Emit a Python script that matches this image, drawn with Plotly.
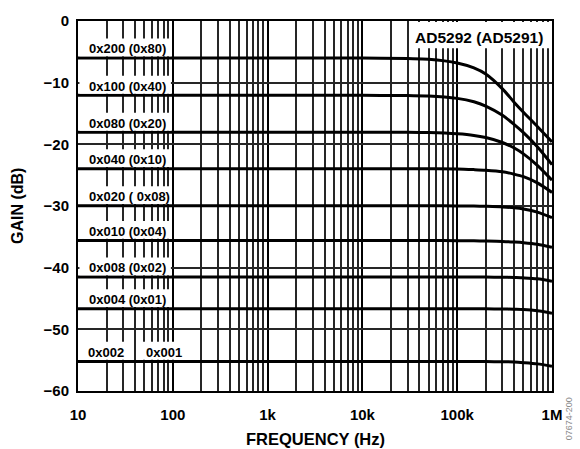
import plotly.graph_objects as go

# Frequenzpunkte (Hz) och avlästa förstärkningar (dB) per kod
freq = [10, 100, 1000, 10000, 30000, 50000, 100000, 150000, 200000,
        300000, 400000, 500000, 700000, 1000000]

g_200 = [-6.0, -6.0, -6.0, -6.0, -6.1, -6.2, -6.8, -7.6, -8.6, -11.0, -13.2, -14.8, -17.1, -19.6]
g_100 = [-12.05, -12.05, -12.05, -12.05, -12.1, -12.15, -12.55, -13.1, -13.8, -15.3, -16.8, -18.1, -20.4, -23.3]
g_080 = [-18.05, -18.05, -18.05, -18.05, -18.05, -18.1, -18.3, -18.55, -18.9, -19.7, -20.6, -21.55, -23.4, -25.8]
g_040 = [-23.95, -23.95, -23.95, -23.95, -23.95, -23.97, -24.0, -24.1, -24.2, -24.45, -24.85, -25.25, -26.25, -27.8]
g_020 = [-29.95, -29.95, -29.95, -29.95, -29.95, -29.96, -29.98, -30.0, -30.05, -30.15, -30.3, -30.5, -31.0, -31.9]
g_010 = [-35.6, -35.6, -35.6, -35.6, -35.6, -35.6, -35.62, -35.65, -35.68, -35.75, -35.85, -35.95, -36.2, -36.7]
g_008 = [-41.5, -41.5, -41.5, -41.5, -41.5, -41.5, -41.5, -41.52, -41.53, -41.55, -41.6, -41.65, -41.8, -42.2]
g_004 = [-46.65, -46.65, -46.65, -46.65, -46.65, -46.65, -46.65, -46.67, -46.68, -46.7, -46.75, -46.8, -47.0, -47.4]
g_002 = [-55.2, -55.2, -55.2, -55.2, -55.2, -55.2, -55.2, -55.22, -55.23, -55.25, -55.3, -55.4, -55.6, -56.0]

series = [g_200, g_100, g_080, g_040, g_020, g_010, g_008, g_004, g_002]
labels = ["0x200 (0x80)", "0x100 (0x40)", "0x080 (0x20)", "0x040 (0x10)",
          "0x020 ( 0x08)", "0x010 (0x04)", "0x008 (0x02)", "0x004 (0x01)"]

x_tickvals = [10, 100, 1000, 10000, 100000, 1000000]
x_ticktext = ["10", "100", "1k", "10k", "100k", "1M"]
y_tickvals = [-60, -50, -40, -30, -20, -10, 0]
y_ticktext = ["\u221260", "\u221250", "\u221240", "\u221230", "\u221220", "\u221210", "0"]

FONT = "Liberation Sans, Arial, sans-serif"
PX_PER_DB = 379 / 60.0

fig = go.Figure()
for g in series:
    fig.add_trace(go.Scatter(x=freq, y=g, mode="lines",
                             line=dict(color="black", width=3, shape="spline", smoothing=0.8),
                             showlegend=False, hoverinfo="skip"))

shapes = []
annotations = []


def white_box(x0, x1, y0, y1, yref="y"):
    # vit ruta ovanför rutnätet, men inte över kurvorna
    return dict(type="rect", xref="paper", yref=yref, layer="above",
                x0=x0, x1=x1, y0=y0, y1=y1, fillcolor="white", line=dict(width=0))


for lab, g in zip(labels, series[:8]):
    lvl = g[0]
    shapes.append(white_box(0.003, 0.196, lvl + 1.7 / PX_PER_DB, lvl + 20 / PX_PER_DB))
    annotations.append(dict(text=lab, xref="paper", yref="y", x=0.019, y=lvl + 9.5 / PX_PER_DB,
                            xanchor="left", yanchor="middle", showarrow=False,
                            font=dict(family=FONT, size=13, color="black", weight="bold")))

lvl = g_002[0]
shapes.append(white_box(0.003, 0.112, lvl + 1.7 / PX_PER_DB, lvl + 20 / PX_PER_DB))
shapes.append(white_box(0.127, 0.228, lvl + 1.7 / PX_PER_DB, lvl + 20 / PX_PER_DB))
annotations.append(dict(text="0x002", xref="paper", yref="y", x=0.017, y=lvl + 9.5 / PX_PER_DB,
                        xanchor="left", yanchor="middle", showarrow=False,
                        font=dict(family=FONT, size=13, color="black", weight="bold")))
annotations.append(dict(text="0x001", xref="paper", yref="y", x=0.139, y=lvl + 9.5 / PX_PER_DB,
                        xanchor="left", yanchor="middle", showarrow=False,
                        font=dict(family=FONT, size=13, color="black", weight="bold")))

# rubrik uppe till höger
shapes.append(white_box(0.705, 0.997, (391 - 40) / 379, 0.997, yref="paper"))
annotations.append(dict(text="AD5292 (AD5291)", xref="paper", yref="paper",
                        x=0.985, y=(391 - 28.5) / 379, xanchor="right", yanchor="middle",
                        showarrow=False,
                        font=dict(family=FONT, size=15.5, color="black", weight="bold")))

# axeltitlar
annotations.append(dict(text="FREQUENCY (Hz)", xref="paper", yref="paper",
                        x=0.5, y=(391 - 440) / 379, xanchor="center", yanchor="middle",
                        showarrow=False,
                        font=dict(family=FONT, size=16.5, color="black", weight="bold")))
annotations.append(dict(text="GAIN (dB)", xref="paper", yref="paper", textangle=-90,
                        x=(17 - 78) / 474, y=0.5, xanchor="center", yanchor="middle",
                        showarrow=False,
                        font=dict(family=FONT, size=16, color="black", weight="bold")))
annotations.append(dict(text="07674-200", xref="paper", yref="paper", textangle=-90,
                        x=(569 - 78) / 474, y=(391 - 420) / 379, xanchor="center", yanchor="middle",
                        showarrow=False,
                        font=dict(family=FONT, size=9, color="#8a8a8a")))

fig.update_layout(
    width=580, height=449,
    margin=dict(l=78, r=28, t=12, b=58),
    paper_bgcolor="white", plot_bgcolor="white",
    shapes=shapes, annotations=annotations,
    font=dict(family=FONT, color="black"),
    xaxis=dict(type="log", range=[1, 6], tickvals=x_tickvals, ticktext=x_ticktext,
               showgrid=True, gridcolor="#000000", gridwidth=2,
               minor=dict(dtick="D1", showgrid=True, gridcolor="#262626", gridwidth=1.5),
               showline=True, linecolor="black", linewidth=2, mirror=True,
               ticks="", ticklabelstandoff=9,
               tickfont=dict(family=FONT, size=15, color="black", weight="bold")),
    yaxis=dict(range=[-60, 0], tickvals=y_tickvals, ticktext=y_ticktext,
               showgrid=True, gridcolor="#262626", gridwidth=1.5, zeroline=False,
               showline=True, linecolor="black", linewidth=2, mirror=True,
               ticks="", ticklabelstandoff=4, ticklabeloverflow="allow",
               tickfont=dict(family=FONT, size=15, color="black", weight="bold")),
)

# sidans body-marginal tas bort så att figuren hamnar i hörnet
fig.write_html("out.html", config={"displayModeBar": False},
               post_script="document.body.style.margin='0px';")
